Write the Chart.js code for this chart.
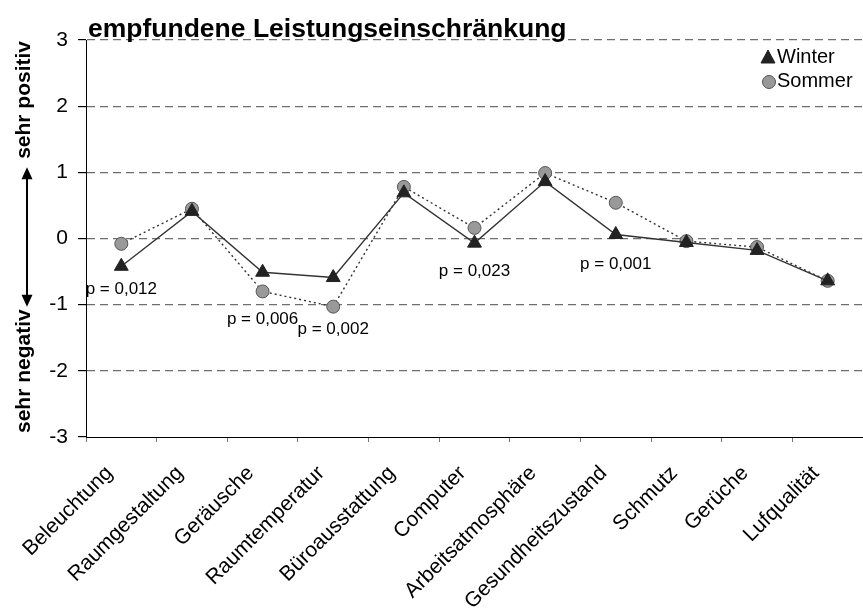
<!DOCTYPE html>
<html>
<head>
<meta charset="utf-8">
<title>empfundene Leistungseinschränkung</title>
<script src="https://cdn.jsdelivr.net/npm/chart.js@4.4.1/dist/chart.umd.min.js"></script>
<style>
    html, body { margin: 0; padding: 0; background: #fff; }
    canvas { display: block; }
</style>
</head>
<body>
<canvas id="chart" width="863" height="615"></canvas>
<script>
// Mittelwerte je Kategorie (Skala -3 .. 3)
const categories = ['Beleuchtung', 'Raumgestaltung', 'Geräusche', 'Raumtemperatur', 'Büroausstattung',
    'Computer', 'Arbeitsatmosphäre', 'Gesundheitszustand', 'Schmutz', 'Gerüche', 'Lufqualität'];
const winter = [-0.42, 0.41, -0.51, -0.59, 0.69, -0.07, 0.86, 0.06, -0.06, -0.18, -0.64];
const sommer = [-0.08, 0.45, -0.80, -1.03, 0.78, 0.16, 0.99, 0.54, -0.04, -0.13, -0.64];
const yMin = -3;
const yMax = 3;

// Signifikanzen: Text, Kategorie, Höhe auf der Skala
const pTexts = ['p = 0,012', 'p = 0,006', 'p = 0,002', 'p = 0,023', 'p = 0,001'];
const pCategory = [0, 2, 3, 5, 7];
const pLevel = [-0.77, -1.22, -1.37, -0.50, -0.39];

const titleText = 'empfundene Leistungseinschränkung';
const captionTop = 'sehr positiv';
const captionBottom = 'sehr negativ';

const FONT = '"Liberation Sans", Arial, sans-serif';
Chart.defaults.font.family = FONT;
Chart.defaults.color = '#000';

// Title, legend, p values and the arrow caption on the left
const decor = {
    id: 'decor',
    afterDraw(chart) {
        const { ctx, chartArea, scales: { x, y } } = chart;
        ctx.save();
        ctx.fillStyle = '#000';

        // title
        ctx.font = 'bold 26.5px ' + FONT;
        ctx.textAlign = 'left';
        ctx.textBaseline = 'alphabetic';
        ctx.fillText(titleText, chartArea.left + 2, chartArea.top - 3);

        // p values
        ctx.font = '17px ' + FONT;
        ctx.textAlign = 'center';
        ctx.textBaseline = 'middle';
        pTexts.forEach((t, i) => {
            ctx.fillText(t, x.getPixelForValue(pCategory[i]), y.getPixelForValue(pLevel[i]));
        });

        // legend
        ctx.font = '20px ' + FONT;
        ctx.textAlign = 'left';
        chart.data.datasets.forEach((ds, i) => {
            const lx = chartArea.right - 95;
            const ly = chartArea.top + 17 + i * 24;
            ctx.fillStyle = ds.pointBackgroundColor;
            ctx.strokeStyle = ds.pointBorderColor;
            ctx.lineWidth = 1;
            ctx.beginPath();
            if (ds.pointStyle === 'triangle') {
                ctx.moveTo(lx, ly - 7);
                ctx.lineTo(lx + 7, ly + 6);
                ctx.lineTo(lx - 7, ly + 6);
                ctx.closePath();
            } else {
                ctx.arc(lx + 1, ly + 1, 6.5, 0, Math.PI * 2);
            }
            ctx.fill();
            ctx.stroke();
            ctx.fillStyle = '#000';
            ctx.fillText(ds.label, lx + 9, ly);
        });

        // vertical caption with double arrow
        ctx.font = 'bold 21px ' + FONT;
        ctx.textBaseline = 'alphabetic';
        ctx.save();
        ctx.translate(30, y.getPixelForValue(yMax) + 1);
        ctx.rotate(-Math.PI / 2);
        ctx.textAlign = 'right';
        ctx.fillText(captionTop, 0, 0);
        ctx.restore();
        ctx.save();
        ctx.translate(30, y.getPixelForValue(yMin) - 4);
        ctx.rotate(-Math.PI / 2);
        ctx.textAlign = 'left';
        ctx.fillText(captionBottom, 0, 0);
        ctx.restore();

        const ax = 27;
        const aTop = y.getPixelForValue(1) - 5;
        const aBot = y.getPixelForValue(-1) + 2;
        ctx.strokeStyle = '#000';
        ctx.lineWidth = 2;
        ctx.beginPath();
        ctx.moveTo(ax, aTop + 10);
        ctx.lineTo(ax, aBot - 10);
        ctx.stroke();
        ctx.beginPath();
        ctx.moveTo(ax, aTop);
        ctx.lineTo(ax + 5.5, aTop + 12);
        ctx.lineTo(ax - 5.5, aTop + 12);
        ctx.closePath();
        ctx.moveTo(ax, aBot);
        ctx.lineTo(ax + 5.5, aBot - 12);
        ctx.lineTo(ax - 5.5, aBot - 12);
        ctx.closePath();
        ctx.fill();

        ctx.restore();
    }
};

new Chart(document.getElementById('chart'), {
    type: 'line',
    data: {
        labels: categories,
        datasets: [
            {
                label: 'Winter',
                data: winter,
                borderColor: '#333',
                borderWidth: 1.4,
                pointStyle: 'triangle',
                pointRadius: 8,
                pointHoverRadius: 8,
                pointBackgroundColor: '#222',
                pointBorderColor: '#222',
                pointBorderWidth: 1,
                tension: 0
            },
            {
                label: 'Sommer',
                data: sommer,
                borderColor: '#333',
                borderWidth: 1.4,
                borderDash: [2, 3],
                pointStyle: 'circle',
                pointRadius: 6.5,
                pointHoverRadius: 6.5,
                pointBackgroundColor: '#999',
                pointBorderColor: '#555',
                pointBorderWidth: 1,
                tension: 0
            }
        ]
    },
    options: {
        responsive: false,
        devicePixelRatio: 1,
        animation: false,
        layout: {
            autoPadding: false,
            padding: { top: 40, right: 0, left: 0, bottom: 0 }
        },
        plugins: {
            legend: { display: false },
            tooltip: { enabled: false }
        },
        scales: {
            x: {
                offset: true,
                grid: {
                    offset: true,
                    drawOnChartArea: false,
                    drawTicks: true,
                    tickLength: 5,
                    tickColor: '#777'
                },
                border: { display: true, color: '#000', width: 1 },
                ticks: {
                    autoSkip: false,
                    minRotation: 45,
                    maxRotation: 45,
                    padding: 19,
                    labelOffset: -12,
                    color: '#000',
                    font: { size: 21 }
                },
                afterFit(scale) {
                    scale.height = 178;
                    scale.paddingLeft = 0;
                    scale.paddingRight = 0;
                }
            },
            y: {
                min: yMin,
                max: yMax,
                ticks: {
                    stepSize: 1,
                    padding: 10,
                    color: '#000',
                    font: { size: 21 }
                },
                grid: {
                    color: ctx => ctx.tick && ctx.tick.value === yMin ? 'rgba(0,0,0,0)' : '#6e6e6e',
                    lineWidth: 1.2,
                    tickLength: 8,
                    tickColor: '#000',
                    tickBorderDash: []
                },
                border: { display: true, color: '#000', width: 1, dash: [8, 5] },
                afterFit(scale) { scale.width = 86; }
            }
        }
    },
    plugins: [decor]
});
</script>
</body>
</html>
